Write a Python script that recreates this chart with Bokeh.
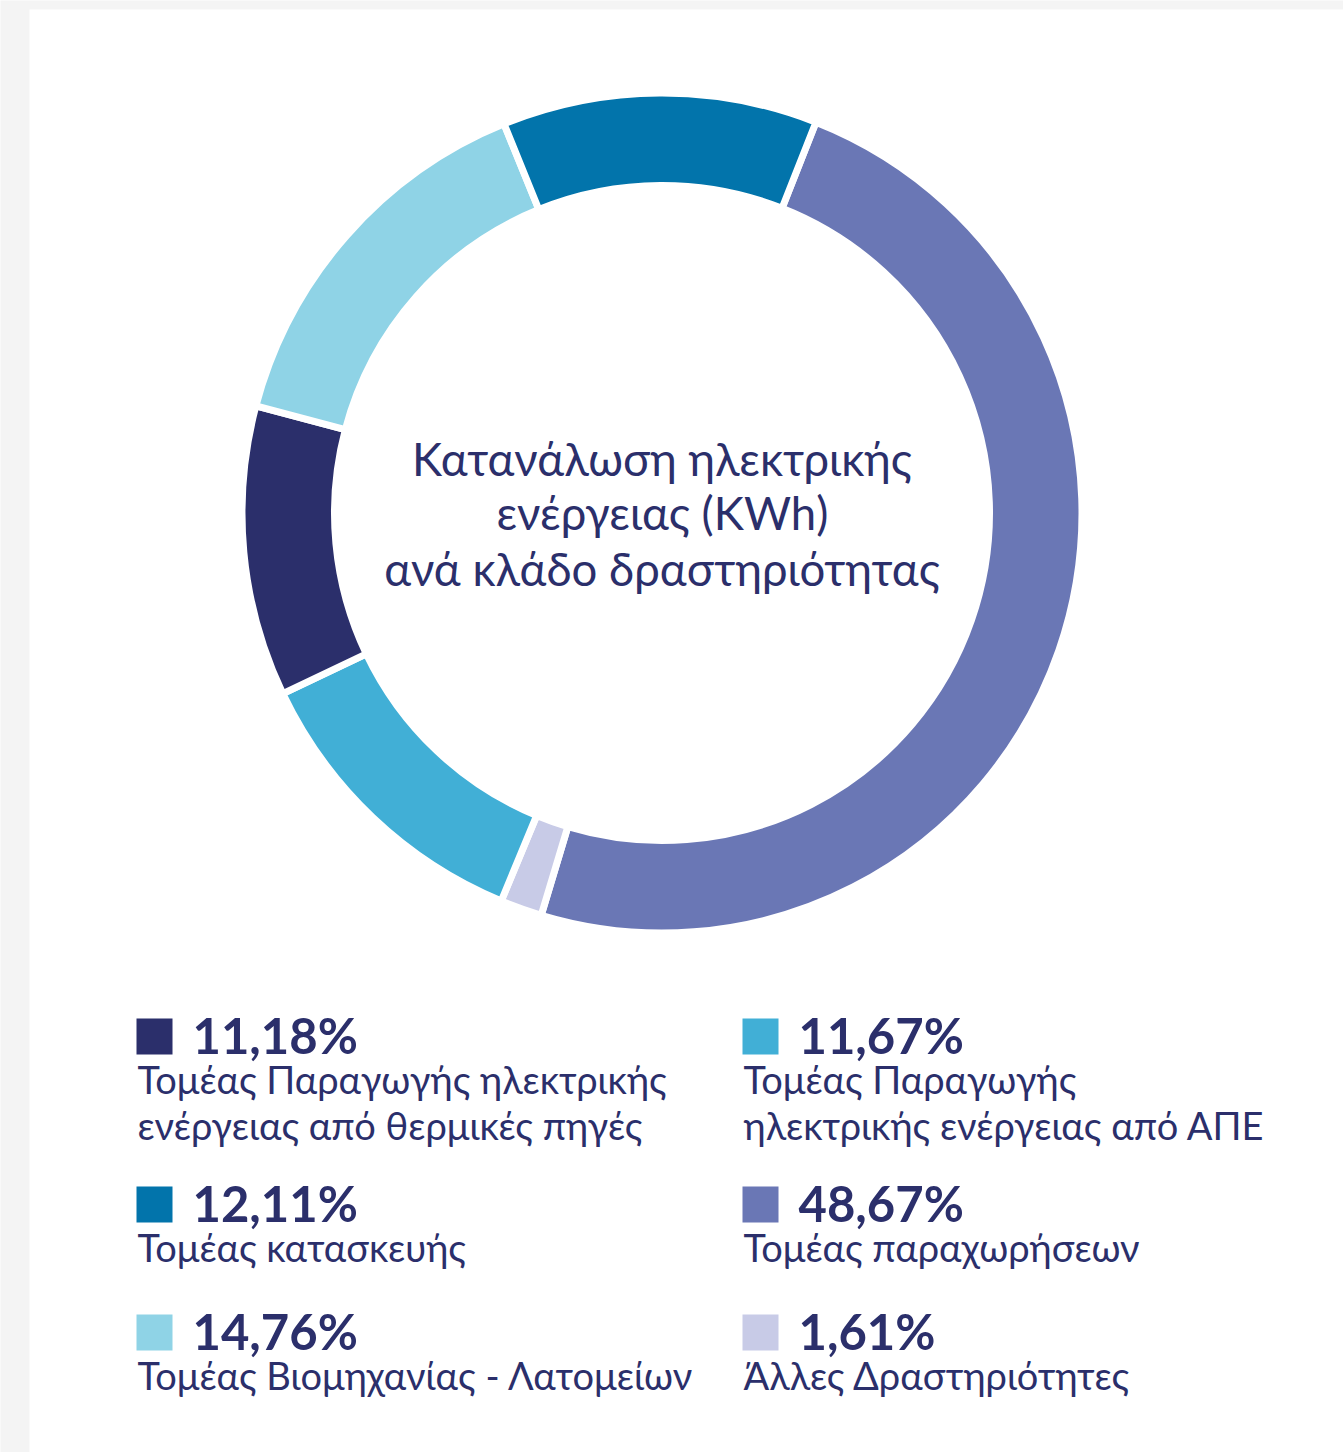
import math

from bokeh.core.properties import value
from bokeh.embed import file_html
from bokeh.models import ColumnDataSource
from bokeh.plotting import figure
from bokeh.resources import INLINE

# ---- data -----------------------------------------------------------------
sectors = [
    "Τομέας Παραγωγής ηλεκτρικής\nενέργειας από θερμικές πηγές",
    "Τομέας κατασκευής",
    "Τομέας Βιομηχανίας - Λατομείων",
    "Τομέας Παραγωγής\nηλεκτρικής ενέργειας από ΑΠΕ",
    "Τομέας παραχωρήσεων",
    "Άλλες Δραστηριότητες",
]
shares = [11.18, 12.11, 14.76, 11.67, 48.67, 1.61]
colors = ["#2b2f6b", "#0274ab", "#8fd3e6", "#41afd6", "#6a77b5", "#c8cbe7"]
# order of the sectors around the ring, clockwise from the start angle
ring_order = [4, 5, 3, 0, 2, 1]
title_lines = ["Κατανάλωση ηλεκτρικής", "ενέργειας (KWh)", "ανά κλάδο δραστηριότητας"]

# ---- layout ---------------------------------------------------------------
W, H = 1343, 1452
TEXT = "#2b2f6b"
FONT = "Lato"
CX, CY = 661.5, H - 512.5
R_OUT, R_IN, GAP = 416.5, 331.0, 7
START_DEG = 68.5  # measured counter-clockwise from +x
TXT_SHIFT = 19    # baseline correction for the text glyphs

p = figure(width=W, height=H, x_range=(0, W), y_range=(0, H),
           x_axis_type=None, y_axis_type=None, toolbar_location=None,
           output_backend="svg", min_border=0)
p.grid.visible = False
p.outline_line_color = None
p.background_fill_color = "#f4f4f4"
p.border_fill_color = "#f4f4f4"

# white card
p.quad(left=[29], right=[W], bottom=[0], top=[H - 9], fill_color="white", line_color=None)

# ---- donut ----------------------------------------------------------------
starts, ends, wcols = [], [], []
a = math.radians(START_DEG)
for i in ring_order:
    b = a - shares[i] / 100.0 * 2 * math.pi
    starts.append(b)
    ends.append(a)
    wcols.append(colors[i])
    a = b

ring = ColumnDataSource(dict(start=starts, end=ends, color=wcols))
p.annular_wedge(x=CX, y=CY, inner_radius=R_IN - GAP / 2, outer_radius=R_OUT + GAP / 2,
                start_angle="start", end_angle="end", fill_color="color",
                line_color="white", line_width=GAP, source=ring)

# centre title
title_base = [477, 531, 587]
p.text(x=[CX] * 3, y=[H - (yb - TXT_SHIFT) for yb in title_base], text=title_lines,
       text_font=value(FONT), text_font_size="45.5px", text_color=TEXT,
       text_align="center", text_baseline="alphabetic")

# ---- legend ---------------------------------------------------------------
col_x = [136, 742]
row_top = [1018, 1186, 1314]
SQ = 36
pct_txt = [f"{s:.2f}".replace(".", ",") + "%" for s in shares]

sq_l, sq_r, sq_b, sq_t, sq_c = [], [], [], [], []
px, py, pt = [], [], []
dx, dy, dt = [], [], []
for k in range(len(sectors)):
    col, row = divmod(k, 3)
    x0, top = col_x[col], row_top[row]
    sq_l.append(x0)
    sq_r.append(x0 + SQ)
    sq_t.append(H - top)
    sq_b.append(H - top - SQ)
    sq_c.append(colors[k])
    px.append(x0 + 56)
    py.append(H - (top + 35 - TXT_SHIFT))
    pt.append(pct_txt[k])
    for j, line in enumerate(sectors[k].split("\n")):
        dx.append(x0 + 1)
        dy.append(H - (top + 79 + 46 * j - TXT_SHIFT))
        dt.append(line)

p.quad(left=sq_l, right=sq_r, bottom=sq_b, top=sq_t, fill_color=sq_c, line_color=None)
p.text(x=px, y=py, text=pt, text_font=value(FONT), text_font_style="bold",
       text_font_size="49px", text_color=TEXT, text_baseline="alphabetic")
p.text(x=dx, y=dy, text=dt, text_font=value(FONT), text_font_size="38px",
       text_color=TEXT, text_baseline="alphabetic")

open("out.html", "w").write(file_html(p, INLINE))
